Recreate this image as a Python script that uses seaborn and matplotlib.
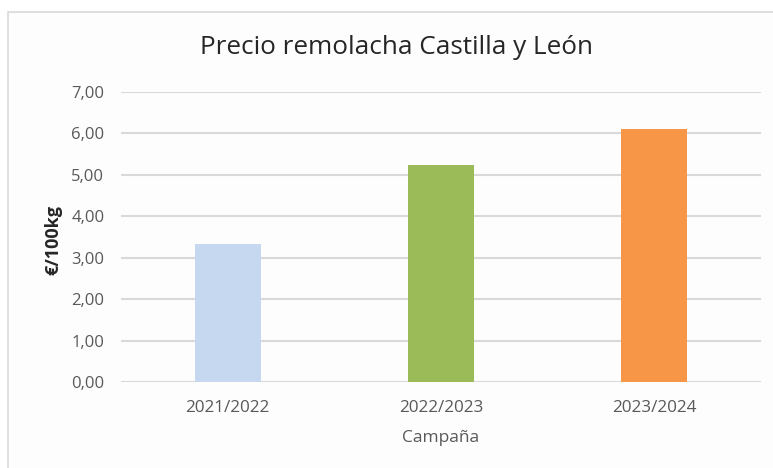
import matplotlib
matplotlib.use("Agg")
import matplotlib.pyplot as plt
import matplotlib.patches as patches
import pandas as pd
import seaborn as sns

# Data
campaigns = ['2021/2022', '2022/2023', '2023/2024']
prices = [3.32, 5.24, 6.11]
bar_colors = ['#C5D8EF', '#9BBB59', '#F79646']
y_ticks = [0, 1, 2, 3, 4, 5, 6, 7]

df = pd.DataFrame({'Campaña': campaigns, 'Precio': prices})

sns.set_theme(style='white')
plt.rcParams['font.family'] = ['Open Sans', 'DejaVu Sans']
text_color = '#595959'

W, H = 773, 468
fig = plt.figure(figsize=(W / 100, H / 100), dpi=100)
fig.patch.set_facecolor('white')

# light frame around the chart area, kept behind the axes
frame = patches.Rectangle((8 / W, -0.1), 1.2, 1 - 12 / H + 0.1,
                          transform=fig.transFigure, facecolor='#FDFDFD',
                          edgecolor='#D9D9D9', linewidth=1.2, zorder=-10)
fig.patches.append(frame)

ax = fig.add_axes([121 / W, 1 - 382 / H, 640 / W, 290 / H])
ax.set_facecolor('none')

sns.barplot(data=df, x='Campaña', y='Precio', hue='Campaña',
            palette=bar_colors, saturation=1, width=0.31, linewidth=0,
            legend=False, ax=ax, zorder=3)

ax.set_ylim(0, 7)
ax.set_xlim(-0.5, 2.5)
ax.set_yticks(y_ticks)
ax.set_yticklabels([f'{v:.2f}'.replace('.', ',') for v in y_ticks])
ax.yaxis.grid(True, color='#D9D9D9', linewidth=1.5, zorder=0)
ax.xaxis.grid(False)
ax.set_axisbelow(True)
for s in ax.spines.values():
    s.set_visible(False)

ax.tick_params(axis='y', length=0, pad=12, labelsize=12, labelcolor=text_color)
ax.tick_params(axis='x', length=0, pad=13, labelsize=12.3, labelcolor=text_color)

ax.set_xlabel('Campaña', fontsize=12.5, color=text_color, labelpad=10)
ax.set_ylabel('')
fig.text(53 / W, 1 - 240 / H, '€/100kg', rotation=90, ha='center', va='center',
         fontsize=13, fontweight='bold', color='#262626')

fig.text(396 / W, 1 - 48 / H, 'Precio remolacha Castilla y León',
         ha='center', va='center', fontsize=18.8, color='#262626')

fig.savefig('out.png', dpi=100)
